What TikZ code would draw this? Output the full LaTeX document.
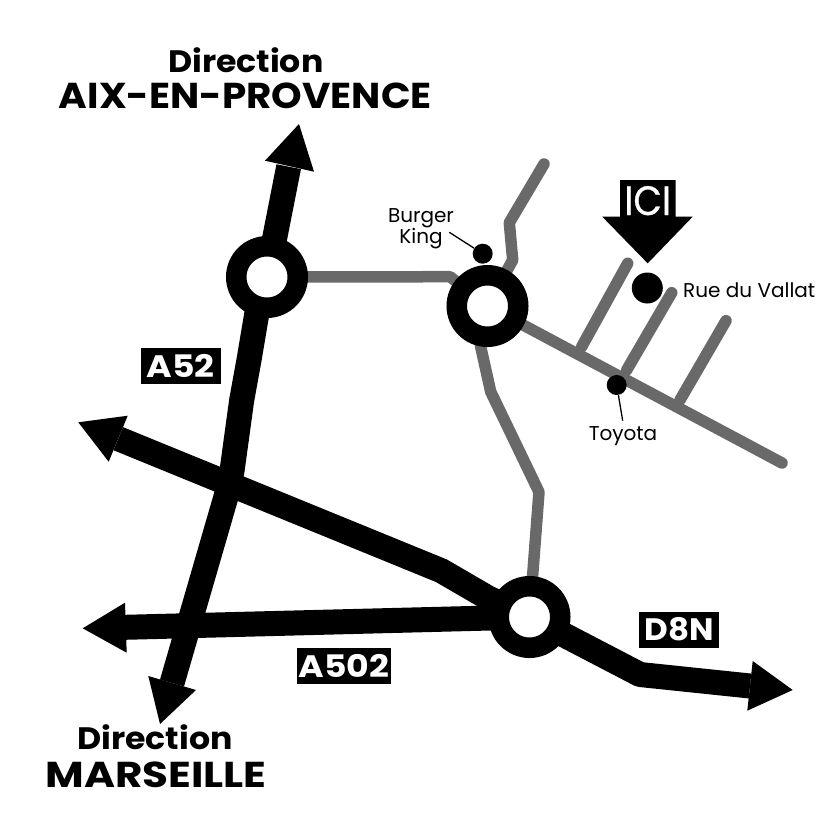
\documentclass[tikz,border=0pt]{standalone}
\usepackage{fontspec}
\setmainfont{Poppins}
\definecolor{roadgrey}{RGB}{105,105,105}
\tikzset{
  x=1pt,y=-1pt,
  grey road/.style={draw=roadgrey,line width=11.5pt,line cap=round,line join=round},
  motorway/.style={draw=black,line width=25pt,line join=round},
  tiphead/.style={fill=black,draw=none},
  ring/.style={circle,draw=black,fill=white,line width=20.5pt,minimum size=61.5pt,inner sep=0pt},
  marker/.style={circle,fill=black,inner sep=0pt},
  road label/.style={fill=black,text=white,font=\bfseries\fontsize{31}{31}\selectfont,inner sep=0pt,minimum height=36pt},
  dir small/.style={font=\bfseries\fontsize{31}{31}\selectfont,inner sep=0pt,anchor=base},
  dir big/.style={font=\bfseries\fontsize{36}{36}\selectfont,inner sep=0pt,anchor=base},
  small text/.style={font=\fontsize{20}{21.5}\selectfont,align=center,inner sep=0pt},
  leader/.style={draw=black,line width=1.3pt}
}
\begin{document}
\begin{tikzpicture}
\useasboundingbox (0,0) rectangle (828,828);
\fill[white] (0,0) rectangle (828,828);
% named points
\coordinate (r1) at (267,277);
\coordinate (r2) at (487.5,306);
\coordinate (r3) at (529.5,617);
% grey roads
\draw[grey road] (r1) -- (450,276.7) -- (r2);
\draw[grey road] (r2) -- (512.7,260) -- (509.3,222.7) -- (544,164);
\draw[grey road] (476,310) -- (480.7,346.7) -- (490.7,391.7) -- (539,492) -- (r3);
\draw[grey road] (r2) -- (782,463);
\draw[grey road] (581.7,346.7) -- (627.7,263.3);
\draw[grey road] (626.7,370) -- (671.7,292.7);
\draw[grey road] (680,400) -- (726,320.7);
% motorways
\draw[motorway] (288.7,166.7) -- (r1) -- (256.7,314.3) -- (249,360) -- (241.7,400) -- (232,471) -- (226,496.7) -- (172,683);
\draw[motorway] (118.3,438.7) -- (441.3,570.7) -- (488.3,598) -- (r3) -- (640,674.5) -- (750,686);
\draw[motorway] (125,627.3) -- (r3);
% arrow tips
\fill[tiphead] (299,124) -- (314,171.7) -- (265,160.7) -- cycle;
\fill[tiphead] (160,724) -- (196,690) -- (148.3,676) -- cycle;
\fill[tiphead] (78.3,422.3) -- (127.7,415.7) -- (108.7,461.7) -- cycle;
\fill[tiphead] (82.7,628.3) -- (125,602.7) -- (126.7,652.7) -- cycle;
\fill[tiphead] (792.7,690) -- (752.7,661) -- (747.3,710.7) -- cycle;
\fill[tiphead] (620,180) -- (675.7,180) -- (675.7,216.7) -- (692.7,216.7) -- (647.7,263.3) -- (602.3,216.7) -- (620,216.7) -- cycle;
% rings
\node[ring] (ring1) at (r1) {};
\node[ring] (ring2) at (r2) {};
\node[ring] (ring3) at (r3) {};
% markers
\node[marker,minimum size=20pt] (bk) at (482.7,253.7) {};
\node[marker,minimum size=31pt] (ici) at (647.3,288) {};
\node[marker,minimum size=20pt] (toy) at (616.7,385) {};
% labels
\node[dir small] (d1) at (245.8,72) {\scalebox{1.07}[1]{Direction}};
\node[dir big] (a1) at (245.3,108.5) {\scalebox{1.08}[1]{AIX-EN-PROVENCE}};
\node[dir small] (d2) at (155,749) {\scalebox{1.07}[1]{Direction}};
\node[dir big] (m1) at (156,787) {\scalebox{1.17}[1]{MARSEILLE}};
\node[road label,minimum width=80pt] (a52) at (180.8,366) {\scalebox{1.12}[1]{A52}};
\node[road label,minimum width=94pt] (a502) at (343.8,665.5) {\scalebox{1.12}[1]{A502}};
\node[road label,minimum width=80pt] (d8n) at (679,629.5) {\scalebox{1.05}[1]{D8N}};
\node[small text] (bkt) at (421,228.5) {Burger\\King};
\node[small text] (tot) at (623,436) {Toyota};
\node[small text,anchor=west] (rdv) at (683,290) {Rue du Vallat};
\node[font=\fontsize{41}{41}\selectfont\addfontfeature{FakeBold=0.6},text=white,inner sep=0pt,anchor=base] (icit) at (647.7,215) {\scalebox{0.9}[1]{ICI}};
\coordinate (l1) at (449.3,232.3);
\coordinate (l2) at (622.7,420.7);
\draw[leader] (l1) -- (bk);
\draw[leader] (toy) -- (l2);
\end{tikzpicture}
\end{document}
